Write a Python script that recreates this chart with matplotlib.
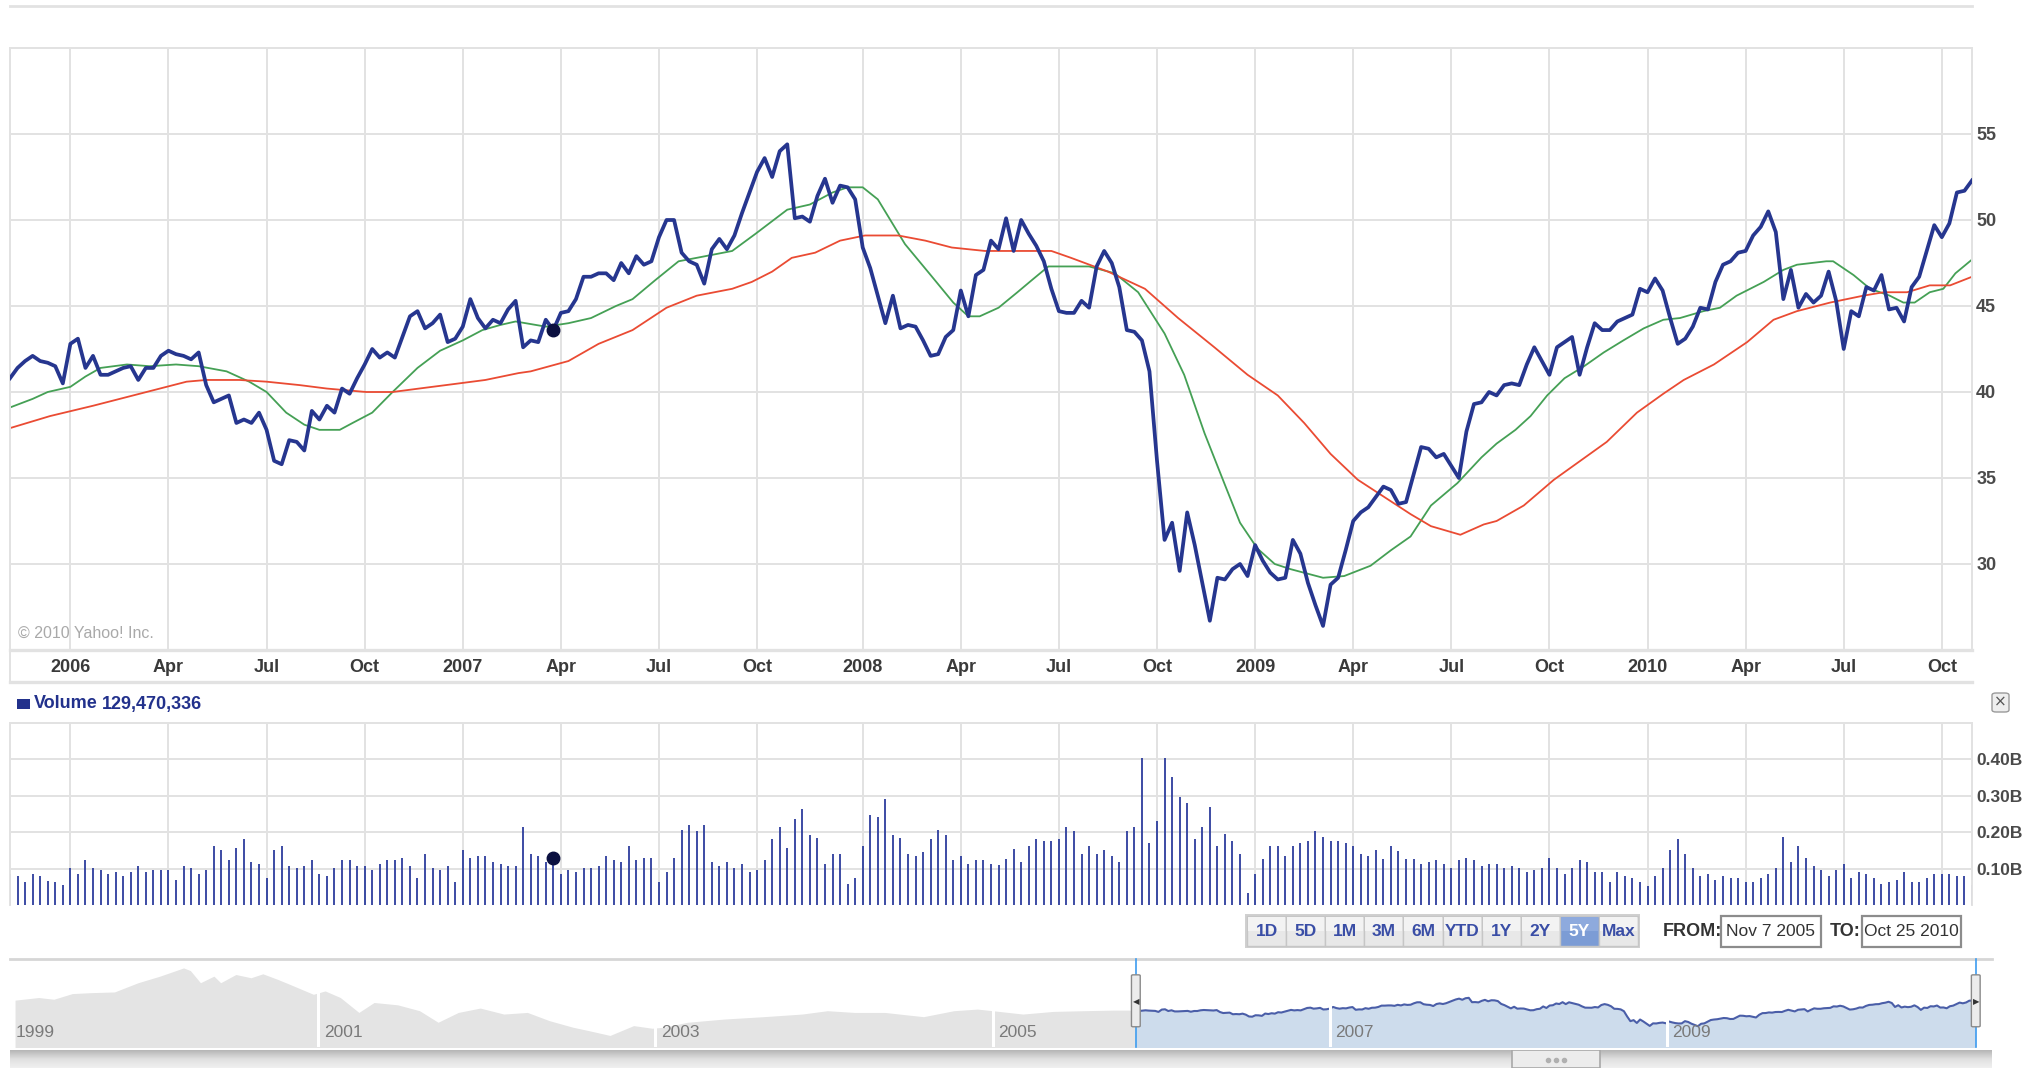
import numpy as np
import pandas as pd
import matplotlib
matplotlib.use("Agg")
import matplotlib.pyplot as plt
from matplotlib.patches import Rectangle, FancyBboxPatch
from matplotlib.lines import Line2D
from matplotlib.colors import LinearSegmentedColormap

plt.rcParams['font.family'] = ['Liberation Sans Narrow', 'Liberation Sans', 'DejaVu Sans']

# weekly closes, first week Nov 7 2005
close = [
    40.8, 41.4, 41.8, 42.1, 41.8, 41.7, 41.5, 40.5, 42.8, 43.1,
    41.4, 42.1, 41.0, 41.0, 41.2, 41.4, 41.5, 40.7, 41.4, 41.4,
    42.1, 42.4, 42.2, 42.1, 41.9, 42.3, 40.4, 39.4, 39.6, 39.8,
    38.2, 38.4, 38.2, 38.8, 37.8, 36.0, 35.8, 37.2, 37.1, 36.6,
    38.9, 38.4, 39.2, 38.8, 40.2, 39.9, 40.8, 41.6, 42.5, 42.0,
    42.3, 42.0, 43.2, 44.4, 44.7, 43.7, 44.0, 44.5, 42.9, 43.1,
    43.8, 45.4, 44.3, 43.7, 44.2, 44.0, 44.8, 45.3, 42.6, 43.0,
    42.9, 44.2, 43.6, 44.6, 44.7, 45.4, 46.7, 46.7, 46.9, 46.9,
    46.5, 47.5, 46.9, 47.9, 47.4, 47.6, 49.0, 50.0, 50.0, 48.1,
    47.6, 47.4, 46.3, 48.3, 48.9, 48.3, 49.1, 50.4, 51.6, 52.8,
    53.6, 52.5, 54.0, 54.4, 50.1, 50.2, 49.9, 51.4, 52.4, 51.0,
    52.0, 51.9, 51.2, 48.4, 47.2, 45.6, 44.0, 45.6, 43.7, 43.9,
    43.8, 43.0, 42.1, 42.2, 43.2, 43.6, 45.9, 44.4, 46.8, 47.1,
    48.8, 48.3, 50.1, 48.2, 50.0, 49.2, 48.5, 47.6, 46.0, 44.7,
    44.6, 44.6, 45.3, 44.9, 47.3, 48.2, 47.5, 46.1, 43.6, 43.5,
    43.0, 41.2, 36.0, 31.4, 32.4, 29.6, 33.0, 31.1, 28.9, 26.7,
    29.2, 29.1, 29.7, 30.0, 29.3, 31.1, 30.2, 29.5, 29.1, 29.2,
    31.4, 30.6, 28.9, 27.6, 26.4, 28.8, 29.2, 30.8, 32.5, 33.0,
    33.3, 33.9, 34.5, 34.3, 33.5, 33.6, 35.2, 36.8, 36.7, 36.2,
    36.4, 35.7, 35.0, 37.7, 39.3, 39.4, 40.0, 39.8, 40.4, 40.5,
    40.4, 41.6, 42.6, 41.8, 41.0, 42.6, 42.9, 43.2, 41.0, 42.6,
    44.0, 43.6, 43.6, 44.1, 44.3, 44.5, 46.0, 45.8, 46.6, 45.9,
    44.3, 42.8, 43.1, 43.8, 44.9, 44.8, 46.4, 47.4, 47.6, 48.1,
    48.2, 49.1, 49.6, 50.5, 49.3, 45.4, 47.1, 44.9, 45.7, 45.2,
    45.6, 47.0, 45.3, 42.5, 44.7, 44.4, 46.1, 45.9, 46.8, 44.8,
    44.9, 44.1, 46.1, 46.7, 48.2, 49.7, 49.0, 49.8, 51.6, 51.7,
    52.3,
]

# weekly volume, billions of shares
volume_b = [
    .086, .079, .063, .084, .079, .067, .062, .056, .102, .086,
    .124, .102, .095, .086, .090, .079, .091, .107, .090, .096,
    .096, .096, .068, .107, .102, .086, .096, .163, .152, .124,
    .157, .180, .118, .113, .074, .152, .163, .107, .102, .107,
    .124, .086, .079, .102, .124, .124, .107, .107, .096, .112,
    .124, .124, .129, .107, .074, .141, .102, .096, .107, .062,
    .152, .129, .135, .135, .118, .112, .107, .107, .214, .141,
    .135, .118, .129, .086, .096, .090, .102, .102, .107, .135,
    .124, .118, .163, .124, .129, .129, .062, .090, .129, .207,
    .219, .202, .219, .118, .107, .118, .102, .112, .090, .096,
    .124, .180, .213, .157, .235, .263, .191, .185, .112, .141,
    .141, .058, .074, .163, .247, .241, .291, .191, .185, .141,
    .135, .146, .180, .207, .191, .124, .135, .112, .124, .124,
    .112, .110, .126, .153, .118, .163, .181, .175, .175, .181,
    .214, .202, .141, .163, .141, .152, .135, .118, .202, .214,
    .403, .169, .231, .403, .353, .298, .281, .180, .214, .270,
    .163, .195, .175, .141, .033, .086, .126, .163, .163, .135,
    .163, .169, .175, .202, .186, .175, .175, .169, .163, .141,
    .135, .152, .126, .163, .147, .126, .126, .113, .118, .124,
    .112, .102, .124, .129, .124, .107, .113, .113, .102, .107,
    .102, .090, .096, .102, .129, .102, .086, .102, .124, .118,
    .090, .090, .062, .090, .079, .074, .062, .051, .079, .102,
    .152, .180, .141, .102, .079, .086, .068, .079, .074, .074,
    .062, .062, .074, .086, .102, .186, .118, .163, .129, .107,
    .096, .079, .096, .113, .074, .090, .086, .074, .058, .062,
    .068, .090, .062, .062, .074, .086, .086, .086, .079, .079,
    .056,
]

# moving averages, x in weeks from the first close
green_weeks = [0, 3, 5, 8, 10, 12, 15.5, 18.5, 22, 25, 28.7, 31.7, 34, 36.6, 39, 41, 43.7, 45.4,
               48, 50.7, 54, 57, 60, 62.6, 65, 67, 71, 74, 77, 80.3, 82.5, 85.5, 88.6, 91, 95.7,
               98.8, 103, 106, 109, 111, 113, 115, 118.6, 122, 125, 127, 128.5, 131, 133.5, 135.4,
               137.6, 143, 146.4, 149.5, 153, 155.6, 158.3, 161, 163, 165.3, 167.6, 169.7, 174,
               176.8, 180.3, 183, 185.6, 188.3, 191.8, 195, 197, 199.5, 201.5, 203.7, 206, 208.6,
               211.2, 213.8, 216.5, 219.1, 221.3, 224.4, 226.6, 228.8, 232.4, 235, 236.8, 240.7,
               241.6, 244.3, 246.5, 249.1, 250.9, 252.4, 254.4, 256.2, 257.8, 260]
green_ma = [39.1, 39.6, 40.0, 40.3, 40.9, 41.4, 41.6, 41.5, 41.6, 41.5, 41.2, 40.6, 40.0, 38.8, 38.1,
            37.8, 37.8, 38.2, 38.8, 40.0, 41.4, 42.4, 43.0, 43.6, 43.9, 44.1, 43.8, 44.0, 44.3, 45.0,
            45.4, 46.5, 47.6, 47.8, 48.2, 49.2, 50.6, 50.9, 51.6, 51.9, 51.9, 51.2, 48.6, 46.8, 45.2,
            44.4, 44.4, 44.9, 45.8, 46.5, 47.3, 47.3, 46.9, 45.8, 43.4, 41.0, 37.6, 34.6, 32.4, 30.9,
            30.0, 29.7, 29.2, 29.3, 29.9, 30.8, 31.6, 33.4, 34.7, 36.2, 37.0, 37.8, 38.6, 39.8, 40.8,
            41.5, 42.3, 43.0, 43.7, 44.2, 44.3, 44.7, 44.9, 45.6, 46.4, 47.1, 47.4, 47.6, 47.6, 46.8,
            46.0, 45.6, 45.2, 45.2, 45.8, 46.0, 46.9, 47.7]
red_weeks = [0, 5.3, 11, 17.2, 23.4, 26, 30.4, 34, 38.4, 42, 47.2, 50.7, 54.2, 59.5, 63, 67.4, 69,
             74, 78, 82.5, 87, 91, 95.7, 98.3, 101, 103.6, 106.7, 110, 113.3, 117.7, 121.3, 124.8,
             129.2, 132.7, 138, 140.6, 145.5, 150.4, 154.8, 159.6, 164, 168, 171.5, 175, 178.6,
             182.1, 185.6, 188.3, 192.2, 195.3, 197, 200.6, 204.6, 208.1, 211.6, 215.6, 219.1,
             221.8, 225.8, 230.2, 233.7, 236.8, 241.2, 245.6, 248.3, 251.4, 254.4, 257.1, 260]
red_ma = [37.9, 38.6, 39.2, 39.9, 40.6, 40.7, 40.7, 40.6, 40.4, 40.2, 40.0, 40.0, 40.2, 40.5, 40.7,
          41.1, 41.2, 41.8, 42.8, 43.6, 44.9, 45.6, 46.0, 46.4, 47.0, 47.8, 48.1, 48.8, 49.1, 49.1,
          48.8, 48.4, 48.2, 48.2, 48.2, 47.8, 47.0, 46.0, 44.3, 42.6, 41.0, 39.8, 38.2, 36.4, 34.9,
          33.9, 32.9, 32.2, 31.7, 32.3, 32.5, 33.4, 34.9, 36.0, 37.1, 38.8, 39.9, 40.7, 41.6, 42.9,
          44.2, 44.7, 45.2, 45.6, 45.8, 45.8, 46.2, 46.2, 46.7]

# navigator history before the selected range
nav_years = [1999.20, 1999.34, 1999.43, 1999.54, 1999.65, 1999.79, 1999.93, 2000.06, 2000.20,
             2000.24, 2000.30, 2000.38, 2000.42, 2000.51, 2000.60, 2000.67, 2000.76, 2000.83,
             2000.97, 2001.04, 2001.13, 2001.24, 2001.33, 2001.47, 2001.60, 2001.71, 2001.83,
             2001.96, 2002.10, 2002.24, 2002.37, 2002.51, 2002.60, 2002.73, 2002.87, 2002.98,
             2003.05, 2003.19, 2003.41, 2003.64, 2003.87, 2004.02, 2004.18, 2004.36, 2004.59,
             2004.77, 2004.91, 2005.00, 2005.18, 2005.36, 2005.54, 2005.72, 2005.86]
nav_close = [52.1, 54.7, 53.0, 58.6, 59.5, 60.2, 69.3, 75.8, 83.9, 81.3, 69.3, 75.8, 69.3, 77.4,
             74.2, 78.1, 72.5, 67.7, 57.9, 61.2, 54.7, 40.0, 49.8, 47.5, 41.7, 30.3, 40.0, 44.3,
             38.4, 40.0, 31.9, 25.4, 22.2, 17.3, 27.0, 24.4, 25.4, 30.3, 33.5, 35.8, 38.4, 41.7,
             40.0, 40.0, 35.8, 41.7, 43.3, 41.7, 38.4, 41.0, 41.7, 42.3, 42.3]
nav_separators = [2001, 2003, 2005, 2007, 2009]
nav_labels = [1999, 2001, 2003, 2005, 2007, 2009]

price_ticks = [30, 35, 40, 45, 50, 55]
volume_ticks = [0.1, 0.2, 0.3, 0.4]
range_buttons = ['1D', '5D', '1M', '3M', '6M', 'YTD', '1Y', '2Y', '5Y', 'Max']
active_range = '5Y'
from_text = 'Nov 7 2005'
to_text = 'Oct 25 2010'
volume_text = '129,470,336'
marker_week = 72

W, H = 2032, 1068
BLUE = '#26368f'
GREEN = '#45a055'
RED = '#ea4b33'
GRID = '#e2e2e2'
LABEL = '#4a4a4a'


def fig_box(x0, y0, x1, y1):
    return [x0 / W, 1 - y1 / H, (x1 - x0) / W, (y1 - y0) / H]


def fx(x):
    return x / W


def fy(y):
    return 1 - y / H


def style_frame(a):
    for s in a.spines.values():
        s.set_color(GRID)
        s.set_linewidth(1.4)
    a.grid(True, color=GRID, lw=1.4)
    a.set_axisbelow(True)
    a.tick_params(length=0)


dates = pd.date_range('2005-11-07', periods=len(close), freq='7D')
green_dates = dates[0] + pd.to_timedelta(np.array(green_weeks) * 7, unit='D')
red_dates = dates[0] + pd.to_timedelta(np.array(red_weeks) * 7, unit='D')
quarters = [d for k, d in enumerate(dates) if k > 0 and d.quarter != dates[k - 1].quarter]
quarter_labels = [str(d.year) if d.month == 1 else d.strftime('%b') for d in quarters]

fig = plt.figure(figsize=(W / 100, H / 100), dpi=100)
fig.patch.set_facecolor('white')

# price panel
ax = fig.add_axes(fig_box(10, 48, 1972, 650))
ax.plot(green_dates, green_ma, color=GREEN, lw=1.3, zorder=2)
ax.plot(red_dates, red_ma, color=RED, lw=1.3, zorder=2)
ax.plot(dates, close, color=BLUE, lw=2.7, zorder=3, solid_joinstyle='round')
ax.plot([dates[marker_week]], [close[marker_week]], 'o', color='#0b1040', ms=9, zorder=4)
ax.set_xlim(dates[0], dates[-1])
ax.set_ylim(25, 60)
ax.set_xticks(quarters)
ax.set_xticklabels([])
ax.set_yticks(price_ticks)
ax.set_yticklabels([str(t) for t in price_ticks], fontweight='bold')
ax.yaxis.tick_right()
style_frame(ax)
ax.tick_params(axis='y', pad=3, labelsize=13, labelcolor=LABEL)
ax.spines['bottom'].set_linewidth(2.4)
ax.text(0.004, 0.027, '\u00a9 2010 Yahoo! Inc.', transform=ax.transAxes, color='#a9a9a9',
        fontsize=11.5, va='center')
for d, lab in zip(quarters, quarter_labels):
    ax.text(d, -0.0285, lab, transform=ax.get_xaxis_transform(), ha='center', va='center',
            fontsize=13, fontweight='bold', color='#3a3a3a')

fig.add_artist(Line2D([fx(10), fx(1972)], [fy(6), fy(6)], color=GRID, lw=2))
fig.add_artist(Line2D([fx(10), fx(1972)], [fy(682), fy(682)], color=GRID, lw=2.4))
fig.add_artist(Line2D([fx(10), fx(10)], [fy(650), fy(682)], color=GRID, lw=1.4))

# volume header
fig.patches.append(Rectangle((fx(17), fy(709)), 13 / W, 10 / H, transform=fig.transFigure,
                             fc='#22318c', ec='none'))
fig.text(fx(34), fy(704), 'Volume', fontsize=13, fontweight='bold', color='#22318c', va='center')
fig.text(fx(102), fy(704), volume_text, fontsize=13, fontweight='bold', color='#22318c', va='center')
fig.patches.append(FancyBboxPatch((fx(1992), fy(712)), 17 / W, 19 / H, transform=fig.transFigure,
                                  boxstyle='round,pad=0,rounding_size=0.002', fc='#eeeeee',
                                  ec='#9a9a9a', lw=1))
fig.text(fx(2000.5), fy(702), '\u00d7', fontsize=11, color='#555555', ha='center', va='center',
         family='DejaVu Sans')

# volume panel
vax = fig.add_axes(fig_box(10, 723, 1972, 905))
vax.vlines(dates, 0, volume_b, color='#2d3d9d', lw=1.3, zorder=2)
vax.plot([dates[marker_week]], [volume_b[marker_week]], 'o', color='#0b1040', ms=9, zorder=4)
vax.set_xlim(dates[0], dates[-1])
vax.set_ylim(0, 0.5)
vax.set_xticks(quarters)
vax.set_xticklabels([])
vax.set_yticks(volume_ticks)
vax.set_yticklabels(['%.2fB' % v for v in volume_ticks], fontweight='bold')
vax.yaxis.tick_right()
style_frame(vax)
vax.spines['bottom'].set_visible(False)
vax.tick_params(axis='y', pad=3, labelsize=12.5, labelcolor=LABEL)

# range buttons
bx0, by0, bw, bh = 1247, 916, 39.1, 30
fig.patches.append(Rectangle((fx(bx0 - 2), fy(by0 + bh + 2)), (bw * len(range_buttons) + 4) / W,
                             (bh + 4) / H, transform=fig.transFigure, fc='#d0d0d0', ec='none'))
for k, lab in enumerate(range_buttons):
    x0 = bx0 + k * bw
    active = lab == active_range
    fig.patches.append(Rectangle((fx(x0), fy(by0 + bh)), bw / W, bh / H, transform=fig.transFigure,
                                 fc='#7c9cd5' if active else '#e8e8e8', ec='#c6c6c6', lw=1))
    fig.patches.append(Rectangle((fx(x0 + 1), fy(by0 + bh / 2)), (bw - 2) / W, (bh / 2 - 1) / H,
                                 transform=fig.transFigure,
                                 fc='#8eaadd' if active else '#f3f3f3', ec='none'))
    fig.text(fx(x0 + bw / 2), fy(by0 + bh / 2), lab, ha='center', va='center', fontsize=12.5,
             fontweight='bold', color='white' if active else '#3a4ea6')

fig.text(fx(1663), fy(931), 'FROM:', fontsize=13, fontweight='bold', color='#333333', va='center')
fig.text(fx(1830), fy(931), 'TO:', fontsize=13, fontweight='bold', color='#333333', va='center')
for (x0, x1), txt in [((1721, 1821), from_text), ((1862, 1961), to_text)]:
    fig.patches.append(Rectangle((fx(x0), fy(947)), (x1 - x0) / W, 31 / H, transform=fig.transFigure,
                                 fc='white', ec='#8c8c8c', lw=1.6))
    fig.text(fx((x0 + x1) / 2), fy(932), txt, ha='center', va='center', fontsize=12.5,
             color='#333333')

# navigator
sel_years = dates.year + (dates.dayofyear - 0.5) / 365.25
nax = fig.add_axes(fig_box(10, 959, 1992, 1047))
nax.fill_between(nav_years, 0, nav_close, color='#e4e4e4', lw=0)
nax.fill_between(sel_years, 0, close, color='#cddcec', lw=0)
nax.plot(sel_years, close, color='#4a5ea8', lw=1.5)
nax.set_xlim(1999.17, 2010.93)
nax.set_ylim(5.9, 92.7)
for yr in nav_separators:
    nax.axvline(yr, color='white', lw=2.2)
for yr in nav_labels:
    nax.text(max(yr, 1999.17) + 0.035, 0.17, str(yr), transform=nax.get_xaxis_transform(),
             fontsize=12.5, color='#7a7a7a', va='center', ha='left')
nax.set_xticks([])
nax.set_yticks([])
for side in ['left', 'right', 'bottom']:
    nax.spines[side].set_visible(False)
nax.spines['top'].set_color('#d6d6d6')
nax.spines['top'].set_linewidth(2)

tr = nax.get_xaxis_transform()
for x, arrow in [(sel_years[0], '\u25c0'), (sel_years[-1], '\u25b6')]:
    nax.plot([x, x], [0, 1], transform=tr, color='#3d9cf0', lw=1.2, clip_on=False, zorder=5)
    nax.add_patch(FancyBboxPatch((x - 0.026, 0.23), 0.052, 0.59, transform=tr,
                                 boxstyle='round,pad=0,rounding_size=0.01', fc='#ececec',
                                 ec='#8a8a8a', lw=1, clip_on=False, zorder=6))
    nax.text(x, 0.52, arrow, transform=tr, fontsize=6, color='#333333', ha='center', va='center',
             family='DejaVu Sans', zorder=7)

# scrollbar
sax = fig.add_axes(fig_box(10, 1050, 1992, 1068))
bar_cmap = LinearSegmentedColormap.from_list('bar', ['#b6b6b6', '#e0e0e0', '#f0f0f0'])
sax.imshow(np.linspace(0, 1, 30).reshape(-1, 1), aspect='auto', cmap=bar_cmap,
           extent=(0, 1, 0, 1))
sax.add_patch(Rectangle((0.758, 0.0), 0.044, 1.0, fc='#ececec', ec='#a8a8a8', lw=1.2))
sax.plot([0.776, 0.780, 0.784], [0.45, 0.45, 0.45], 'o', color='#b0b0b0', ms=3)
sax.set_xlim(0, 1)
sax.set_ylim(0, 1)
sax.axis('off')

fig.savefig('out.png', dpi=100, facecolor='white')
